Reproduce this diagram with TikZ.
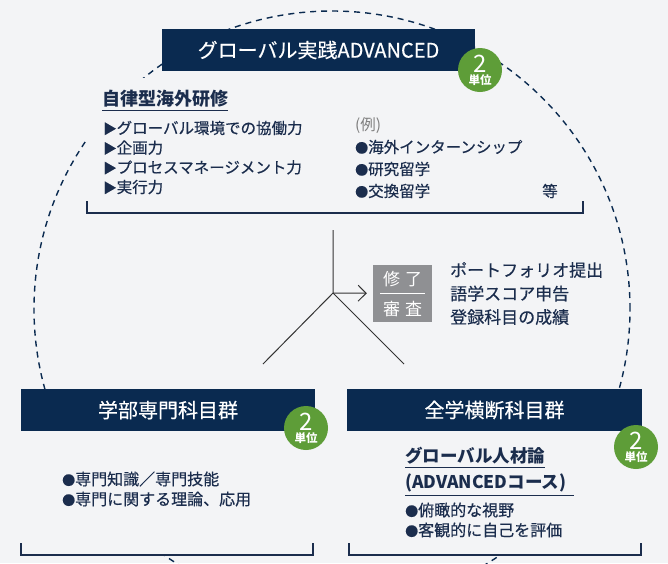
\documentclass[tikz,border=0pt]{standalone}
\usepackage{fontspec}
\setmainfont{Noto Sans CJK JP}
\newfontfamily\mediumfont[FakeBold=0.4]{Noto Sans CJK JP}
\usetikzlibrary{arrows.meta}
\definecolor{bg}{HTML}{F3F4F6}
\definecolor{navy}{HTML}{0A2A50}
\definecolor{ink}{HTML}{1B2D4D}
\definecolor{badgegreen}{HTML}{5E9D38}
\definecolor{reviewgray}{HTML}{8F9093}
\tikzset{
  titlebox/.style={fill=navy, text=white, minimum height=42pt, inner sep=0pt, font=\fontsize{20}{22}\selectfont\mediumfont},
  badge/.style={circle, fill=badgegreen, text=white, minimum size=44pt, inner sep=0pt, align=center},
  listtext/.style={anchor=west, inner sep=0pt, align=left, text=ink},
  headtext/.style={anchor=west, inner sep=0pt, inner ysep=3pt, text=ink, font=\fontsize{17.5}{20}\selectfont\bfseries},
}
\newcommand{\unitbadge}{{\fontsize{24}{19}\selectfont 2}\\{\fontsize{11.5}{12}\selectfont\bfseries 単位}}
\newcommand{\dotmark}{{\fontsize{13}{10}\selectfont ●}}
\newcommand{\trimark}{{\fontsize{13.5}{10}\selectfont ▶}}
\begin{document}
\begin{tikzpicture}[x=1pt, y=-1pt]
            \fill[bg] (0,0) rectangle (668,563);
            \useasboundingbox (0,0) rectangle (668,563);
            \draw[navy, line width=1.4pt, dash pattern=on 6pt off 5pt] (332,309) circle[radius=298pt];
            \fill[bg] (87,78) rectangle (515,213);
            \fill[bg] (21,389) rectangle (315,555);
            \fill[bg] (347,389) rectangle (642,555);
            \node[titlebox, minimum width=313pt] (practice) at (318.5,50) {グローバル実践ADVANCED};
            \node[badge] (practiceunit) at (480,70) {\unitbadge};
            \node[headtext, font=\fontsize{18}{20}\selectfont\bfseries] (abroad) at (102,99) {自律型海外研修};
            \draw[ink, line width=1.3pt] (abroad.south west) -- (abroad.south east);
            \node[listtext, font=\fontsize{15.5}{19.7}\selectfont\mediumfont] (skills) at (103,157.5) {\trimark グローバル環境での協働力\\\trimark 企画力\\\trimark プロセスマネージメント力\\\trimark 実行力};
            \node[listtext, font=\fontsize{15.5}{22}\selectfont\mediumfont] (examples) at (355,158) {{\normalfont\textcolor{gray}{(例)}}\\\dotmark 海外インターンシップ\\\dotmark 研究留学\\\dotmark 交換留学};
            \node[text=ink, inner sep=0pt, font=\fontsize{15.5}{18}\selectfont\mediumfont] (etc) at (550,191) {等};
            \draw[ink, line width=1.3pt] (87,201) |- (583,213) -- (583,201);
            \coordinate (stem) at (333,230);
            \coordinate (branch) at (333,293);
            \coordinate (legleft) at (263,364);
            \coordinate (legright) at (404,364);
            \node[fill=reviewgray, text=white, minimum width=59pt, minimum height=57pt, inner sep=0pt, align=center, font=\fontsize{17}{30}\selectfont] (review) at (402.5,293.5) {修\hspace{5pt}了\\審\hspace{5pt}査};
            \draw[white, line width=1pt] ([xshift=7pt]review.west) -- ([xshift=-7pt]review.east);
            \draw[black!80, line width=1pt] (stem) -- (branch) -- (legleft);
            \draw[black!80, line width=1pt] (branch) -- (legright);
            \draw[black!80, line width=1pt, -{Straight Barb[length=8pt, width=16pt]}, shorten >=6pt] (branch) -- (review);
            \node[listtext, font=\fontsize{17}{23.5}\selectfont\mediumfont] (submit) at (450,293.5) {ポートフォリオ提出\\語学スコア申告\\登録科目の成績};
            \node[titlebox, minimum width=294pt] (faculty) at (168,410) {学部専門科目群};
            \node[badge] (facultyunit) at (306,428) {\unitbadge};
            \node[listtext, font=\fontsize{16}{20}\selectfont\mediumfont] (expert) at (62,489) {\dotmark 専門知識／専門技能\\\dotmark 専門に関する理論、応用};
            \draw[ink, line width=1.3pt] (21,543) |- (313,555) -- (313,543);
            \node[titlebox, minimum width=295pt] (cross) at (494.5,410) {全学横断科目群};
            \node[badge] (crossunit) at (636,447) {\unitbadge};
            \node[headtext] (talent) at (405,456) {グローバル人材論};
            \draw[ink, line width=1.3pt] (talent.south west) -- (talent.south east);
            \node[headtext] (course) at (405,483) {(ADVANCEDコース)};
            \draw[ink, line width=1.3pt] (course.south west) -- ([xshift=8pt]course.south east);
            \node[listtext, font=\fontsize{16}{20}\selectfont\mediumfont] (view) at (405,520) {\dotmark 俯瞰的な視野\\\dotmark 客観的に自己を評価};
            \draw[ink, line width=1.3pt] (349,543) |- (641,555) -- (641,543);
        \end{tikzpicture}
\end{document}
